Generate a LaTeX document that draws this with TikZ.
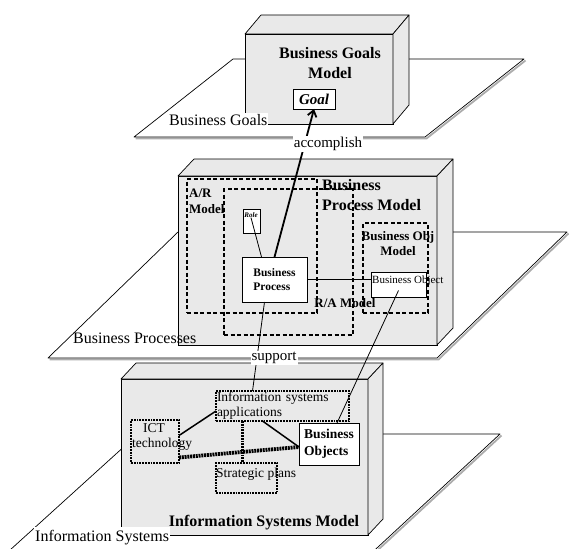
\documentclass[tikz,border=0pt]{standalone}
\usepackage{fontspec}
\setmainfont{Liberation Serif}
\usetikzlibrary{positioning,arrows.meta}

\tikzset{
	plane/.style={draw, fill=white, line width=0.7pt, line join=round},
	planeshade/.style={draw=gray!65, line width=1.8pt},
	slab/.style={draw, fill=gray!17, line width=0.7pt, inner sep=0pt, outer sep=0pt, anchor=north west},
	slabface/.style={draw, fill=gray!17, line width=0.7pt, line join=round},
	part/.style={draw, fill=white, line width=0.7pt, inner sep=0pt, outer sep=0pt, anchor=north west},
	region/.style={draw, dash pattern=on 4pt off 2.5pt, line width=1.2pt, inner sep=0pt, outer sep=0pt, anchor=north west},
	sysbox/.style={draw, dash pattern=on 1.8pt off 1pt, line width=2pt, inner sep=0pt, outer sep=0pt, anchor=north west},
	title/.style={font=\bfseries\fontsize{16}{20}\selectfont, inner sep=0pt},
	sub/.style={font=\bfseries\fontsize{13}{16}\selectfont, inner sep=0pt},
	lab/.style={font=\fontsize{16}{19}\selectfont, inner sep=1pt},
	note/.style={font=\fontsize{13.5}{15}\selectfont, inner sep=0pt},
	link/.style={line width=0.8pt},
	goalarrow/.style={line width=1.8pt, -{Straight Barb[length=6pt,width=9pt]}},
	syslink/.style={line width=1.5pt},
	sysdots/.style={line width=2.2pt, dash pattern=on 1.8pt off 1pt},
	heavydots/.style={line width=3.8pt, dash pattern=on 2pt off 0.8pt},
}

% top and side face of a slab node, #2 = depth offset
\newcommand{\slabfaces}[2]{%
	\filldraw[slabface] (#1.north west) -- ++(#2) -- ([shift={(#2)}]#1.north east) -- (#1.north east) -- cycle;
	\filldraw[slabface] (#1.north east) -- ++(#2) -- ([shift={(#2)}]#1.south east) -- (#1.south east) -- cycle;
}

\begin{document}
\begin{tikzpicture}[x=1pt,y=-1pt]
	\useasboundingbox (0,0) rectangle (569,548);
	\clip (0,0) rectangle (569,548);
	
	% planes
	\draw[planeshade] (525.5,60.5) -- (426.5,138.5) -- (135.5,138.5);
	\draw[plane] (233,59) -- (524,59) -- (425,137) -- (134,137) -- cycle;
	
	\draw[planeshade] (568.5,233.5) -- (438.5,359.5) -- (49.5,359.5);
	\draw[plane] (178,232) -- (567,232) -- (437,358) -- (48,358) -- cycle;
	
	\draw[planeshade] (501.5,435.5) -- (365.5,561.5);
	\draw[plane] (138,434) -- (500,434) -- (364,560) -- (-1,560) -- cycle;
	
	% business goals model
	\node[slab, minimum width=148pt, minimum height=90pt] (gm) at (245,34) {};
	\slabfaces{gm}{16pt,19pt}
	\node[title, align=center] (gmt) at (330,63) {Business Goals\\Model};
	\node[part, minimum width=42pt, minimum height=20pt,
		font=\bfseries\itshape\fontsize{15}{18}\selectfont] (goal) at (293,89) {Goal};
	\node[lab, fill=white, anchor=west] (bgl) at (168,120) {Business Goals};
	
	% business process model
	\node[slab, minimum width=259pt, minimum height=169pt] (pm) at (178,176) {};
	\slabfaces{pm}{16pt,17pt}
	\node[region, minimum width=130pt, minimum height=134pt] (ar) at (187,179) {};
	\node[region, minimum width=129pt, minimum height=146pt] (ra) at (224,189) {};
	\node[region, minimum width=65pt, minimum height=90pt] (bom) at (363,223) {};
	\node[sub, align=left, anchor=west] (art) at (189,201) {A/R\\Model};
	\node[title, align=left, anchor=west] (pmt) at (322,195) {Business\\Process Model};
	\node[sub, fill=none] (rat) at (345,303) {R/A Model};
	\node[sub, align=center, font=\bfseries\fontsize{13}{15}\selectfont] (bomt) at (398,244) {Business Obj\\Model};
	
	\node[part, minimum width=17pt, minimum height=24pt] (role) at (243,209) {};
	\node[inner sep=0pt, font=\bfseries\itshape\fontsize{7}{8}\selectfont] (rolet) at (251,215) {Role};
	\node[part, minimum width=65pt, minimum height=45pt, align=left,
		font=\bfseries\fontsize{11.5}{14}\selectfont] (bp) at (242,257) {Business\\Process};
	\node[part, minimum width=55pt, minimum height=25pt] (bo) at (371,272) {};
	\node[inner sep=0pt, anchor=west, font=\fontsize{11}{13}\selectfont] (bot) at (372,281) {Business Object};
	\node[lab, anchor=west] (bpl) at (72,338) {Business Processes};
	
	% information systems model
	\node[slab, minimum width=247pt, minimum height=156pt] (im) at (121,379) {};
	\slabfaces{im}{15pt,16pt}
	\node[sysbox, minimum height=30pt, text width=131pt, inner xsep=1pt, align=left,
		font=\fontsize{13.5}{15}\selectfont] (isa) at (216,391) {Information systems\\applications};
	\node[sysbox, minimum width=48pt, minimum height=43pt] (ict) at (131,420) {};
	\node[note, align=left, anchor=west] (ictt) at (132,437) {\hspace*{11pt}ICT\\technology};
	\node[part, minimum width=60pt, minimum height=42pt, align=left, line width=0.8pt,
		font=\bfseries\fontsize{13.5}{17}\selectfont] (bobj) at (299,423) {Business\\Objects};
	\node[sysbox, minimum width=61pt, minimum height=30pt] (strat) at (216,463) {};
	\node[note, anchor=west] (stratt) at (216,474) {Strategic plans};
	\node[title] (imt) at (264,523) {Information Systems Model};
	
	% connectors
	\draw[link] (rolet.south) -- ([xshift=-13pt]bp.north);
	\draw[link] (bp.east) -- (bp.east -| bo.west);
	\draw[goalarrow] (bp.north) -- (goal.south);
	\draw[link] ([xshift=-10pt]bp.south) -- ([xshift=-30pt]isa.north);
	\draw[link] ([yshift=-6pt]bo.center) -- ([xshift=8pt]bobj.north);
	
	\draw[syslink] ([yshift=6pt]ict.east) -- ([yshift=-5pt]isa.west);
	\draw[syslink] ([xshift=-20pt]isa.south) -- ([yshift=-3pt]bobj.west);
	\draw[heavydots] ([yshift=-16pt]ict.east) -- ([yshift=-3pt]bobj.west);
	\draw[sysdots] ([xshift=-40pt]isa.south) -- ([xshift=-4pt]strat.north);
	
	% labels on top
	\node[lab, fill=white, font=\fontsize{15}{18}\selectfont] (acc) at (328,144) {accomplish};
	\node[lab, fill=white, font=\fontsize{15}{18}\selectfont] (sup) at (274,358) {support};
	\node[lab, fill=white, anchor=west, minimum height=22pt] (isl) at (34,538) {Information Systems};
\end{tikzpicture}
\end{document}
